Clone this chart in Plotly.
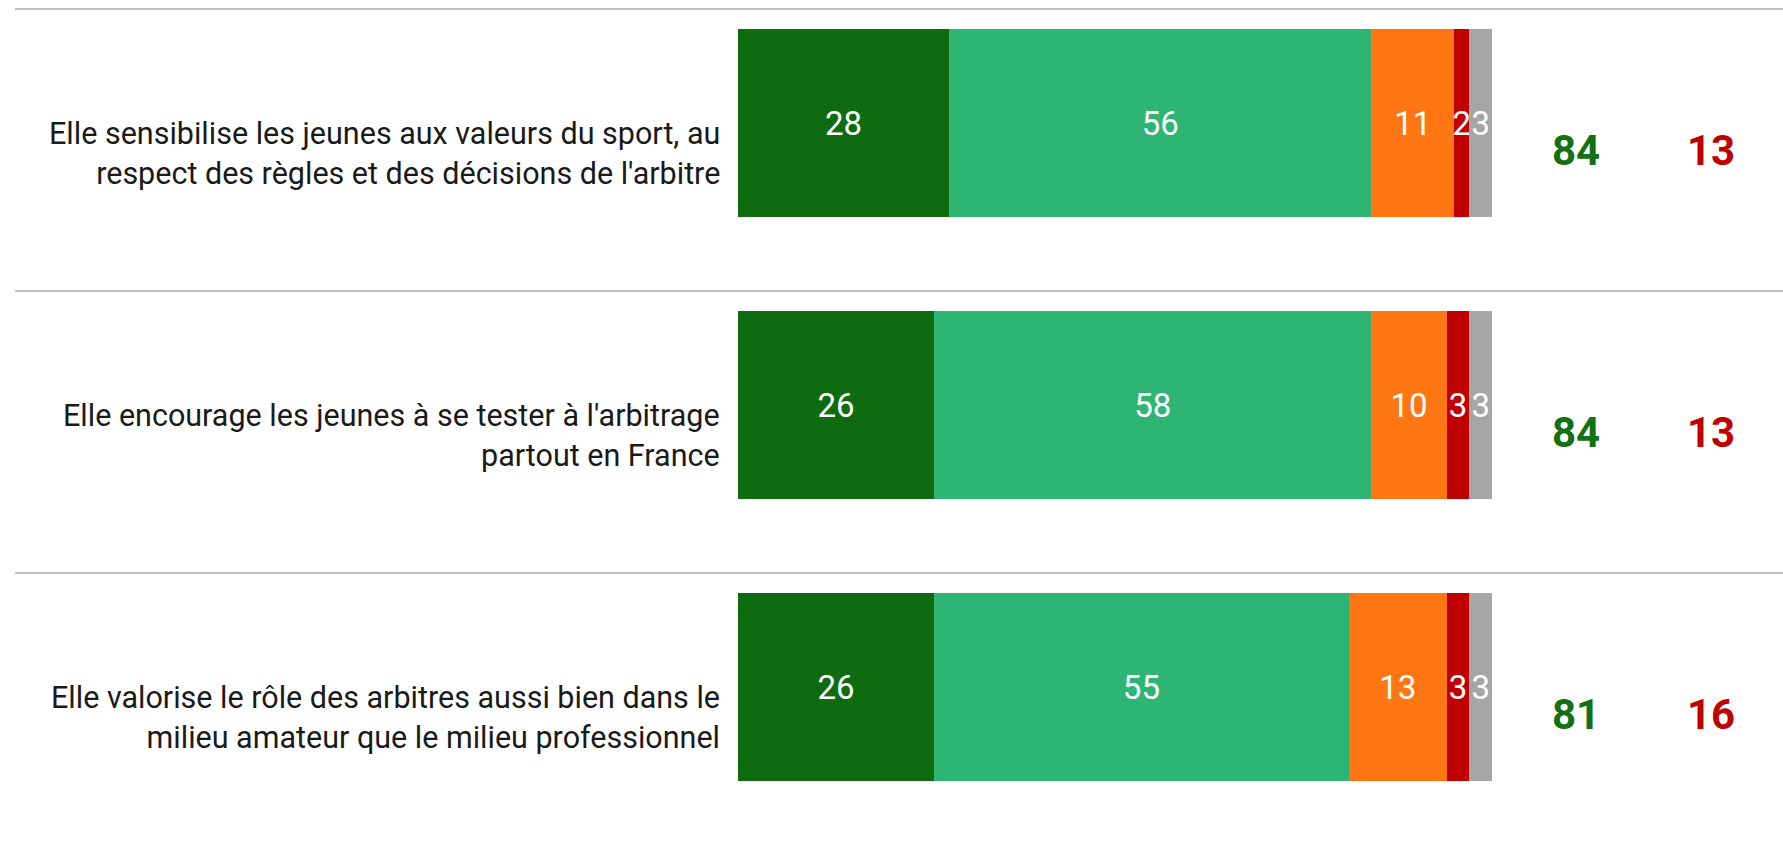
import plotly.graph_objects as go

# Statements rated by respondents
categories = [
    "Elle sensibilise les jeunes aux valeurs du sport, au<br>respect des règles et des décisions de l'arbitre",
    "Elle encourage les jeunes à se tester à l'arbitrage<br>partout en France",
    "Elle valorise le rôle des arbitres aussi bien dans le<br>milieu amateur que le milieu professionnel",
]

# Answer shares (%)
tout_a_fait = [28, 26, 26]
plutot_oui = [56, 58, 55]
plutot_non = [11, 10, 13]
pas_du_tout = [2, 3, 3]
nsp = [3, 3, 3]

# Net totals
total_oui = [84, 84, 81]
total_non = [13, 13, 16]

series = [
    ("Tout à fait", tout_a_fait, "#0F6B10"),
    ("Plutôt", plutot_oui, "#2EB574"),
    ("Plutôt pas", plutot_non, "#FF7612"),
    ("Pas du tout", pas_du_tout, "#C00000"),
    ("Ne se prononce pas", nsp, "#A6A6A6"),
]

FONT = "Roboto"
W, H = 1783, 846

fig = go.Figure()
for name, vals, color in series:
    fig.add_trace(go.Bar(
        name=name,
        y=list(range(len(categories))),
        x=vals,
        orientation="h",
        marker=dict(color=color, line=dict(width=0)),
        text=[str(v) for v in vals],
        textposition="inside",
        insidetextanchor="middle",
        textangle=0,
        textfont=dict(family=FONT, size=33, color="white"),
        width=0.667,
        hoverinfo="skip",
    ))

annotations = []
shapes = []
for i, cat in enumerate(categories):
    annotations.append(dict(
        xref="paper", yref="y", x=722 / W, y=i, yshift=-30,
        text=cat, showarrow=False, xanchor="right", yanchor="middle",
        align="right", font=dict(family=FONT, size=30.5, color="#1a1a1a"),
    ))
    annotations.append(dict(
        xref="paper", yref="y", x=1576 / W, y=i, yshift=-27,
        text=f"<b>{total_oui[i]}</b>", showarrow=False,
        xanchor="center", yanchor="middle",
        font=dict(family=FONT, size=42, color="#137013"),
    ))
    annotations.append(dict(
        xref="paper", yref="y", x=1711 / W, y=i, yshift=-27,
        text=f"<b>{total_non[i]}</b>", showarrow=False,
        xanchor="center", yanchor="middle",
        font=dict(family=FONT, size=42, color="#C00000"),
    ))
    # separator rule above each statement
    shapes.append(dict(
        type="line", xref="paper", yref="y",
        x0=15 / W, x1=1, y0=i - 0.404, y1=i - 0.404,
        line=dict(color="#BFBFBF", width=2),
    ))

fig.update_layout(
    barmode="stack",
    width=W, height=H,
    margin=dict(l=0, r=0, t=0, b=0),
    paper_bgcolor="white", plot_bgcolor="white",
    showlegend=False,
    uniformtext=dict(minsize=33, mode="show"),
    xaxis=dict(domain=[738 / W, 1492 / W], range=[0, 100],
               visible=False, fixedrange=True),
    yaxis=dict(range=[2.5638, -0.4362], visible=False, fixedrange=True),
    annotations=annotations,
    shapes=shapes,
    hovermode=False,
)

fig.write_html("out.html", config={"displayModeBar": False})
